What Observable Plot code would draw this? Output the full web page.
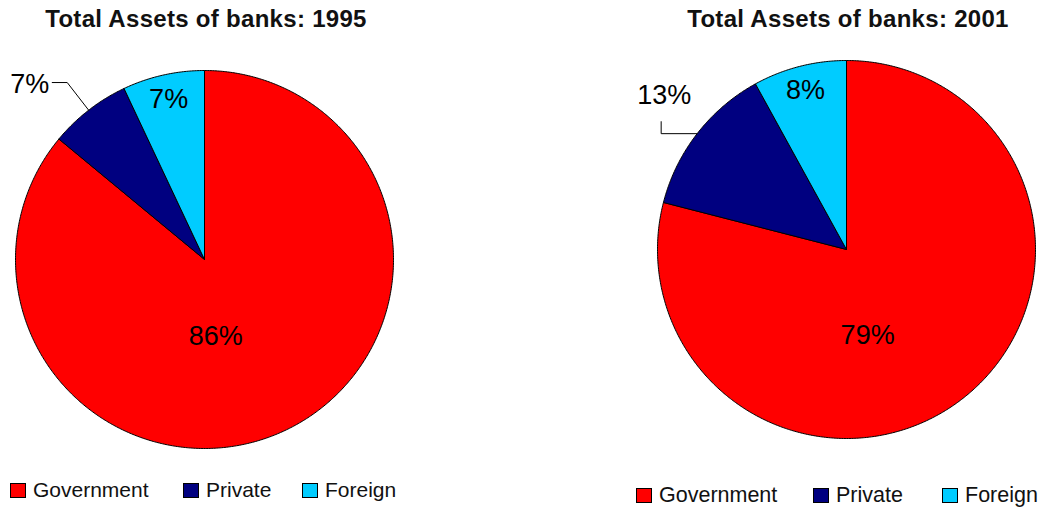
<!DOCTYPE html>
<html><head><meta charset="utf-8">
<script src="https://cdn.jsdelivr.net/npm/d3@7"></script>
<script src="https://cdn.jsdelivr.net/npm/@observablehq/plot@0.6"></script>
<style>
body{margin:0;background:#fff;font-family:"Liberation Sans",Arial,sans-serif;}
#root{position:relative;width:1045px;height:510px;overflow:hidden;background:#fff;}
.title{position:absolute;font-weight:bold;font-size:24px;line-height:25px;letter-spacing:0.3px;white-space:nowrap;transform:translateX(-50%);color:#111;}
.chart{position:absolute;}
.item{position:absolute;display:flex;align-items:center;white-space:nowrap;height:24px;color:#111;}
.sw{width:14px;height:13px;border:1px solid #000;display:inline-block;margin-right:7px;}
</style></head><body><div id="root"></div>
<script>
// ---- data ----
const categories = ["Government", "Private", "Foreign"];
const colors = ["#FF0000", "#000080", "#00CCFF"];
const years = ["1995", "2001"];
const shares1995 = [86, 7, 7];
const shares2001 = [79, 13, 8];
const titlePrefix = "Total Assets of banks: ";

// ---- layout (pixels) ----
const layouts = [
  {left: 0, top: 38, width: 420, height: 440, cx: 204, cy: 221, r: 189, titleX: 206,
   legendTop: 478, legendX: [10, 183, 302], legendFont: 21,
   bigNudge: [-25, 0], leader: "diagonal"},
  {left: 620, top: 38, width: 425, height: 430, cx: 226, cy: 211, r: 189, titleX: 848,
   legendTop: 483, legendX: [636, 813, 942], legendFont: 21.5,
   bigNudge: [-31, 19], leader: "elbow"}
];
const seriesByYear = [shares1995, shares2001];
const FONT = "Liberation Sans, Arial, sans-serif";

const root = document.getElementById("root");

years.forEach((year, i) => {
  const L = layouts[i];
  const values = seriesByYear[i];
  const rows = categories.map((c, j) => ({cat: c, value: values[j]}));
  const arcs = d3.pie().sort(null).value(d => d.value).startAngle(0).endAngle(2 * Math.PI)(rows);

  // slice outlines
  const pts = [];
  for (const a of arcs) {
    const cat = a.data.cat;
    pts.push({cat, x: 0, y: 0});
    const n = Math.max(2, Math.ceil((a.endAngle - a.startAngle) / (Math.PI / 360)));
    for (let k = 0; k <= n; k++) {
      const t = a.startAngle + (a.endAngle - a.startAngle) * k / n;
      pts.push({cat, x: Math.sin(t), y: Math.cos(t)});
    }
    pts.push({cat, x: 0, y: 0});
  }

  const mid = a => (a.startAngle + a.endAngle) / 2;
  const polar = (ang, k) => ({x: k * Math.sin(ang), y: k * Math.cos(ang)});
  const px = L.r; // pixels per unit

  const marks = [
    Plot.line(pts, {x: "x", y: "y", z: "cat", fill: "cat", stroke: "#000", strokeWidth: 1, curve: "linear"})
  ];

  arcs.forEach(a => {
    const label = a.data.value + "%";
    const cat = a.data.cat;
    if (cat === "Government") {
      marks.push(Plot.text([polar(mid(a), 0.45)], {x: "x", y: "y", text: () => label, fontSize: 27,
        fontFamily: FONT, fill: "#000", dx: L.bigNudge[0], dy: L.bigNudge[1]}));
    } else if (cat === "Foreign") {
      marks.push(Plot.text([polar(mid(a), 0.87)], {x: "x", y: "y", text: () => label, fontSize: 27,
        fontFamily: FONT, fill: "#000"}));
    } else {
      // outside label with leader
      const edge = polar(mid(a), 1.0);
      let line, lab, anchor, dx, dy;
      if (L.leader === "diagonal") {
        const elbow = polar(mid(a), 1.185);
        const end = {x: elbow.x - 15 / px, y: elbow.y};
        line = [edge, elbow, end];
        lab = end; anchor = "end"; dx = -3; dy = 2;
      } else {
        const elbow = {x: edge.x - 36 / px, y: edge.y};
        const end = {x: elbow.x, y: elbow.y + 12 / px};
        line = [edge, elbow, end];
        lab = end; anchor = "middle"; dx = 3; dy = -26;
      }
      marks.push(Plot.line(line, {x: "x", y: "y", stroke: "#000", strokeWidth: 1}));
      marks.push(Plot.text([lab], {x: "x", y: "y", text: () => label, fontSize: 27, fontFamily: FONT,
        fill: "#000", textAnchor: anchor, dx, dy}));
    }
  });

  const chart = Plot.plot({
    width: L.width, height: L.height, margin: 0,
    style: {background: "transparent", overflow: "visible"},
    x: {domain: [-1, 1], range: [L.cx - L.r, L.cx + L.r], axis: null},
    y: {domain: [-1, 1], range: [L.cy + L.r, L.cy - L.r], axis: null},
    color: {domain: categories, range: colors},
    marks
  });
  const wrap = document.createElement("div");
  wrap.className = "chart";
  wrap.style.left = L.left + "px";
  wrap.style.top = L.top + "px";
  wrap.appendChild(chart);
  root.appendChild(wrap);

  const title = document.createElement("div");
  title.className = "title";
  title.style.left = L.titleX + "px";
  title.style.top = "6px";
  title.textContent = titlePrefix + year;
  root.appendChild(title);

  categories.forEach((c, j) => {
    const it = document.createElement("div");
    it.className = "item";
    it.style.left = L.legendX[j] + "px";
    it.style.top = L.legendTop + "px";
    it.style.fontSize = L.legendFont + "px";
    const sw = document.createElement("span");
    sw.className = "sw";
    sw.style.background = colors[j];
    it.appendChild(sw);
    const t = document.createElement("span");
    t.textContent = c;
    it.appendChild(t);
    root.appendChild(it);
  });
});
</script></body></html>
